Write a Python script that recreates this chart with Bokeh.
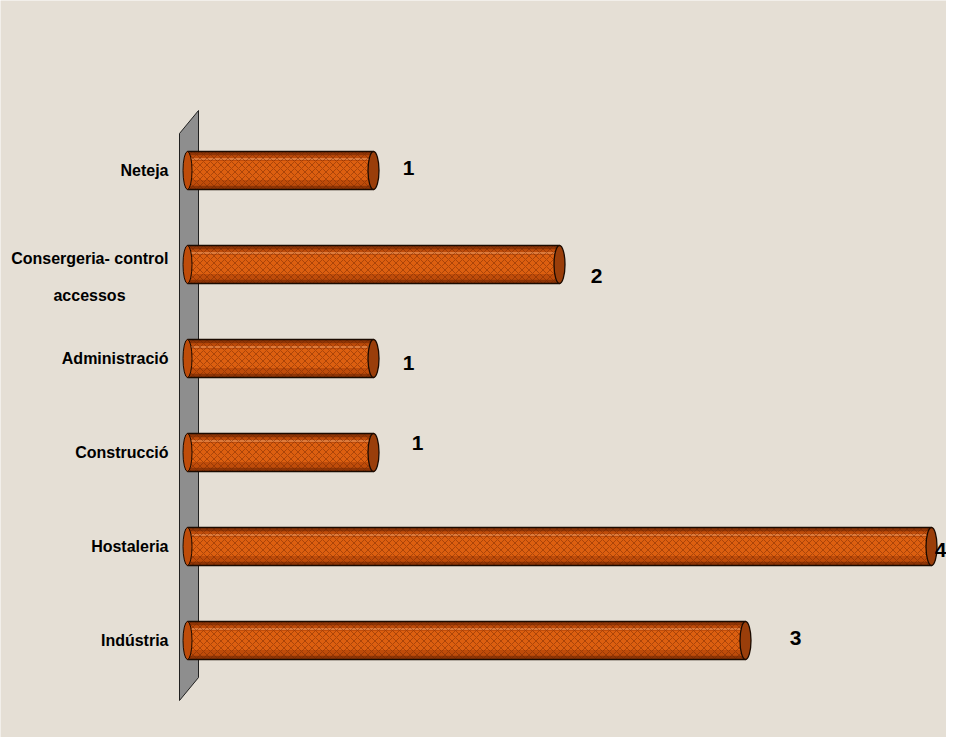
from bokeh.plotting import figure
from bokeh.models import ColumnDataSource, Range1d
from bokeh.core.properties import value
from bokeh.embed import file_html
from bokeh.resources import INLINE

# ---- data (bottom to top) ----
categories = ["Indústria", "Hostaleria", "Construcció", "Administració",
              "Consergeria- control\naccessos", "Neteja"]
counts = [3, 4, 1, 1, 2, 1]
count_labels = ["3", "4", "1", "1", "2", "1"]

# ---- style: label offsets in screen px ----
label_dx = [50, 9, 44, 35, 37, 35]
label_dy = [-3, 3, -10, 4, 11, -3]

FONT = value("Liberation Sans")
W, H = 946, 737
PX = 186.0   # px per unit
X0 = 187.0   # figure px where value 0 sits
YP = 94.0    # px per category
Y0 = 640.0   # figure px (from top) of category 0

p = figure(width=W, height=H, output_backend="svg", toolbar_location=None,
           min_border=0, x_range=Range1d(-X0 / PX, (W - X0) / PX),
           y_range=Range1d(-(H - Y0) / YP, Y0 / YP))
p.axis.visible = False
p.grid.visible = False
p.outline_line_color = None
p.background_fill_color = "#e5dfd5"
p.border_fill_color = "#e5dfd5"

ys = list(range(len(categories)))

def fx(px):
    return (px - X0) / PX
def fy(py):
    return (Y0 - py) / YP

# wall (decorative)
p.patch([fx(179), fx(198), fx(198), fx(179)], [fy(133), fy(110), fy(677), fy(700)],
        fill_color="#8e8e8e", line_color="#202020", line_width=1)

src = ColumnDataSource(dict(y=ys, v=counts, lab=count_labels, dx=label_dx, dy=label_dy,
                            cat=categories))
bh = 38 / YP
# cylinder shading bands
p.hbar(y="y", left=0, right="v", height=bh, source=src, fill_color="#8e3506", line_color=None)
p.hbar(y="y", left=0, right="v", height=bh * 0.8, source=src, fill_color="#bf4c0a", line_color=None)
p.hbar(y="y", left=0, right="v", height=bh * 0.5, source=src, fill_color="#dc5f10", line_color=None)
src2 = ColumnDataSource(dict(y=[y + bh * 0.3 for y in ys], v=counts))
p.hbar(y="y", left=0, right="v", height=1.5 / YP, source=src2, fill_color="#f29a5c",
       fill_alpha=0.8, line_color=None)
# net texture
p.hbar(y="y", left=0, right="v", height=bh, source=src, fill_alpha=0, line_color=None,
       hatch_pattern="diagonal_cross", hatch_color="#6e2400", hatch_alpha=0.45,
       hatch_scale=7, hatch_weight=1)
p.hbar(y="y", left=0, right="v", height=bh, source=src, fill_alpha=0,
       line_color="#1a0a00", line_width=1.3)
# end caps
p.ellipse(x=0, y="y", width=9 / PX, height=bh, source=src, fill_color="#bf4c0a",
          line_color="#1a0a00", line_width=1)
p.ellipse(x="v", y="y", width=11 / PX, height=bh, source=src, fill_color="#9a3e0a",
          line_color="#1a0a00", line_width=1.3)

# value labels
p.text(x="v", y="y", text="lab", x_offset="dx", y_offset="dy", source=src,
       text_font=FONT, text_font_style="bold",
       text_font_size="21px", text_color="#000000", text_align="center",
       text_baseline="middle")

# category labels
single = [i for i, c in enumerate(categories) if "\n" not in c]
p.text(x=[fx(168)] * len(single), y=[ys[i] for i in single],
       text=[categories[i] for i in single],
       text_font=FONT, text_font_style="bold",
       text_font_size="16px", text_color="#000000", text_align="right",
       text_baseline="middle")
for i, c in enumerate(categories):
    if "\n" in c:
        l1, l2 = c.split("\n")
        p.text(x=[fx(168)], y=[ys[i]], text=[l1], y_offset=[-6],
               text_font=FONT, text_font_style="bold",
               text_font_size="16px", text_color="#000000", text_align="right",
               text_baseline="middle")
        p.text(x=[fx(89)], y=[ys[i]], text=[l2], y_offset=[31],
               text_font=FONT, text_font_style="bold",
               text_font_size="16px", text_color="#000000", text_align="center",
               text_baseline="middle")

open("out.html", "w").write(file_html(p, INLINE))
